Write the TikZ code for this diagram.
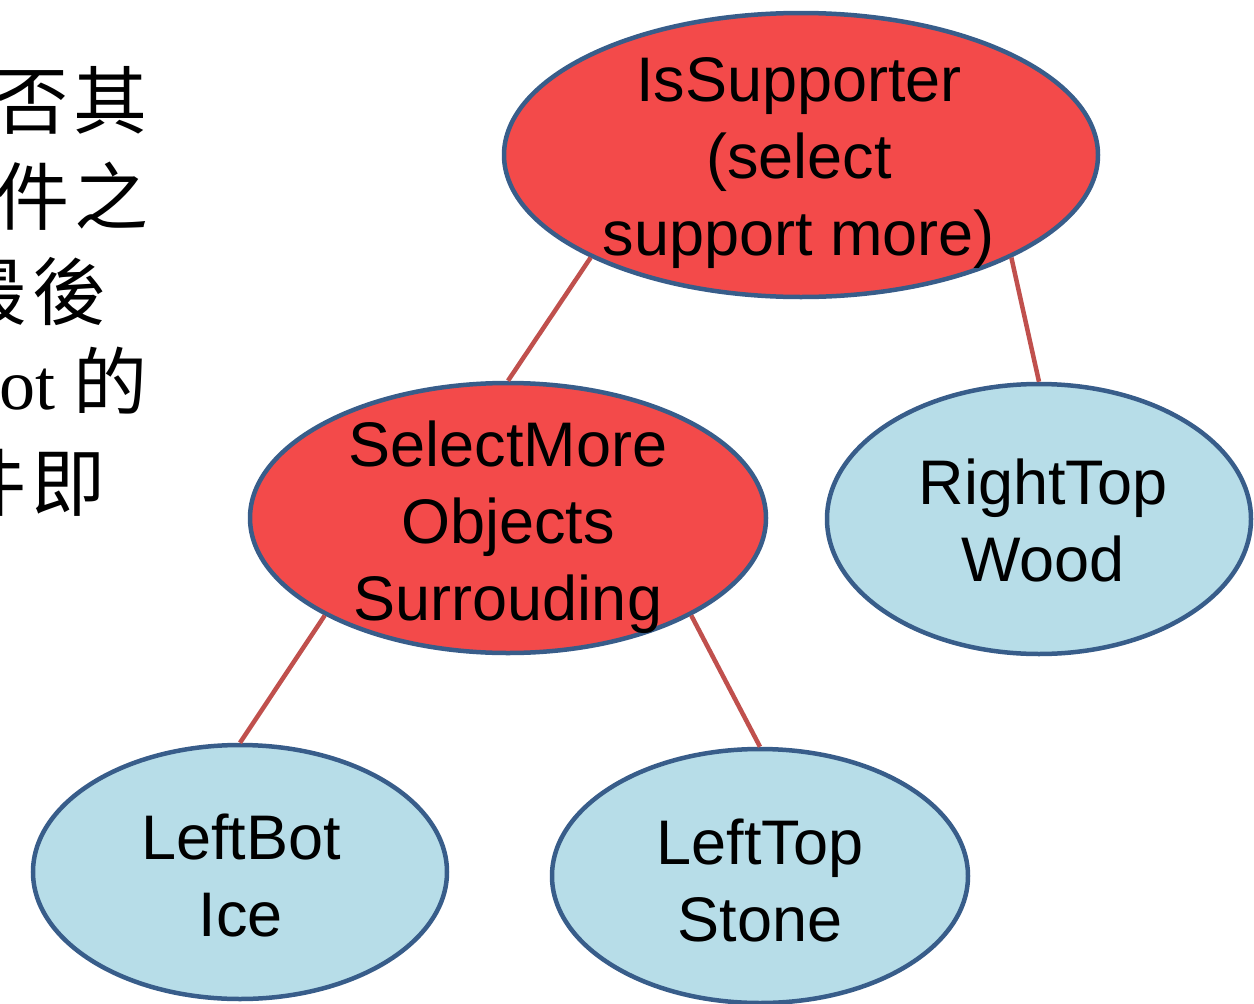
\documentclass[tikz,border=0pt]{standalone}
\usepackage{fontspec}
\setmainfont{Liberation Sans}
\newfontfamily\cjk{Noto Sans CJK TC}
\newfontfamily\serifL{Liberation Serif}
\usetikzlibrary{shapes.geometric}
\definecolor{nodered}{RGB}{243,74,74}
\definecolor{edgeblue}{RGB}{56,93,138}
\definecolor{leafblue}{RGB}{183,221,232}
\definecolor{linkred}{RGB}{192,80,77}
\newcommand{\gapc}{\hspace{5pt}}
\begin{document}
\begin{tikzpicture}[x=1pt,y=-1pt,
  tnode/.style={ellipse, draw=edgeblue, line width=4.5pt, inner sep=0pt},
  rednode/.style={tnode, fill=nodered},
  leafnode/.style={tnode, fill=leafblue},
  lbl/.style={align=center, font=\fontsize{63}{77}\selectfont, inner sep=0pt},
  link/.style={draw=linkred, line width=4.5pt},
  side/.style={font=\fontsize{74}{74}\selectfont\cjk, anchor=base east, inner sep=0pt}]
\useasboundingbox (0,0) rectangle (1254,1004);
\clip (0,0) rectangle (1254,1004);
\fill[white] (0,0) rectangle (1254,1004);

% clipped side text
\node[side] (s1) at (148,128) {否\gapc 其};
\node[side] (s2) at (149,224) {件\gapc 之};
\node[side] (s3) at (107,319) {最\gapc 後};
\node[side] (s4) at (148,409) {{\fontsize{72}{72}\selectfont\serifL ot }的};
\node[side] (s5) at (106,510) {件\gapc 即};
\node[side, font=\fontsize{72}{72}\selectfont\serifL] (s6) at (4,862) {,};

% tree nodes
\node[rednode, minimum width=594pt, minimum height=284pt] (root) at (801,155) {};
\node[rednode, minimum width=516pt, minimum height=270pt] (sel) at (508,518) {};
\node[leafnode, minimum width=424pt, minimum height=270pt] (rt) at (1039,519) {};
\node[leafnode, minimum width=414pt, minimum height=254pt] (lb) at (240,872) {};
\node[leafnode, minimum width=416pt, minimum height=254pt] (ltop) at (760,876) {};

% labels
\node[lbl] (rootT) at (799,163) {IsSupporter\\(select\\support more)};
\node[lbl] (selT) at (508,527) {SelectMore\\Objects\\Surrouding};
\node[lbl] (rtT) at (1043,520) {RightTop\\Wood};
\node[lbl] (lbT) at (241,876) {LeftBot\\Ice};
\node[lbl] (ltopT) at (760,881) {LeftTop\\Stone};

% connectors
\draw[link] (root.206) -- (sel.north);
\draw[link] (root.334) -- (rt.north);
\draw[link] (sel.208) -- (lb.north);
\draw[link] (sel.332) -- (ltop.north);
\end{tikzpicture}
\end{document}
